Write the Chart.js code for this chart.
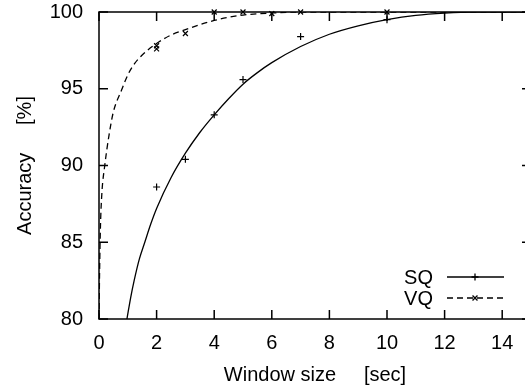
<!DOCTYPE html>
<html lang="en">

<head>
  <meta charset="UTF-8" />
  <title>Accuracy vs Window size</title>
  <script src="https://cdn.jsdelivr.net/npm/chart.js"></script>
  <style>
    html {
      margin: 0;
      padding: 0;
      width: 525px;
      height: 391px;
      overflow: hidden;
      background: #ffffff;
    }

    body {
      margin: 0;
      padding: 0;
      width: 531px;
      height: 391px;
    }

    canvas {
      display: block;
    }
  </style>
</head>

<body>
  <canvas id="accChart" width="531" height="391"></canvas>

  <script>
    // tick labels
    const xTicks = [0, 2, 4, 6, 8, 10, 12, 14];
    const yTicks = [80, 85, 90, 95, 100];

    // fitted curves
    const sqFitX = [0.97, 1.1, 1.22, 1.4, 1.59, 1.8, 2, 2.5, 3, 3.5, 4, 4.5, 5, 5.5, 6, 7, 8, 9, 10, 11, 12, 13, 15];
    const sqFitY = [80, 81.4, 82.5, 83.9, 85, 86.2, 87.2, 89.2, 90.8, 92.15, 93.3, 94.35, 95.3, 96.05, 96.7, 97.75, 98.55, 99.1, 99.5, 99.78, 99.93, 100, 100];
    const vqFitX = [0, 0.02, 0.05, 0.1, 0.2, 0.35, 0.5, 0.78, 1, 1.24, 1.5, 2, 2.5, 3, 4, 5, 6, 7, 8, 15];
    const vqFitY = [80, 83, 86, 88.2, 90, 92, 93.5, 94.9, 95.9, 96.65, 97.2, 97.95, 98.5, 98.85, 99.45, 99.8, 99.93, 100, 100, 100];

    // measured points
    const sqX = [2, 3, 4, 5, 7, 10];
    const sqY = [88.6, 90.4, 93.3, 95.6, 98.4, 99.5];
    const vqX = [2, 2, 3, 4, 5, 6, 7, 10];
    const vqY = [97.8, 97.6, 98.6, 100, 100, 99.9, 100, 100];

    const FONT = "'Liberation Sans', Arial, Helvetica, sans-serif";
    const pts = (xs, ys) => xs.map((x, i) => ({ x: x, y: ys[i] }));

    // frame with inward ticks on all four sides (gnuplot style)
    const framePlugin = {
      id: 'frame',
      afterDatasetsDraw(chart) {
        const { ctx, chartArea: a, scales } = chart;
        const len = 9;
        ctx.save();
        ctx.strokeStyle = '#000';
        ctx.lineWidth = 1.5;
        ctx.strokeRect(a.left, a.top, a.right - a.left, a.bottom - a.top);
        ctx.beginPath();
        xTicks.forEach(v => {
          const px = scales.x.getPixelForValue(v);
          ctx.moveTo(px, a.bottom); ctx.lineTo(px, a.bottom - len);
          ctx.moveTo(px, a.top); ctx.lineTo(px, a.top + len);
        });
        yTicks.forEach(v => {
          const py = scales.y.getPixelForValue(v);
          ctx.moveTo(a.left, py); ctx.lineTo(a.left + len, py);
          ctx.moveTo(a.right, py); ctx.lineTo(a.right - len, py);
        });
        ctx.stroke();
        ctx.restore();
      }
    };

    // key in the lower right, like gnuplot's
    const keyPlugin = {
      id: 'key',
      afterDraw(chart) {
        const ctx = chart.ctx;
        const entries = [
          { ds: chart.data.datasets[0], mark: chart.data.datasets[1], y: 277 },
          { ds: chart.data.datasets[2], mark: chart.data.datasets[3], y: 298 }
        ];
        ctx.save();
        ctx.font = '20px ' + FONT;
        ctx.fillStyle = '#000';
        ctx.textAlign = 'right';
        ctx.textBaseline = 'middle';
        entries.forEach(e => {
          ctx.fillText(e.ds.label, 433, e.y + 1);
          ctx.strokeStyle = '#000';
          ctx.lineWidth = e.ds.borderWidth;
          ctx.setLineDash(e.ds.borderDash || []);
          ctx.beginPath();
          ctx.moveTo(447, e.y);
          ctx.lineTo(504, e.y);
          ctx.stroke();
          ctx.setLineDash([]);
          Chart.helpers.drawPoint(ctx, {
            pointStyle: e.mark.pointStyle,
            radius: e.mark.pointRadius,
            borderWidth: e.mark.borderWidth,
            rotation: 0
          }, 475, e.y);
        });
        ctx.restore();
      }
    };

    Chart.defaults.font.family = FONT;
    Chart.defaults.font.size = 20;
    Chart.defaults.color = '#000';

    new Chart(document.getElementById('accChart'), {
      type: 'scatter',
      data: {
        datasets: [
          {
            label: 'SQ',
            data: pts(sqFitX, sqFitY),
            showLine: true,
            pointRadius: 0,
            borderColor: '#000',
            borderWidth: 1.3,
            cubicInterpolationMode: 'monotone'
          },
          {
            label: 'SQ points',
            data: pts(sqX, sqY),
            pointStyle: 'cross',
            pointRadius: 3.5,
            borderColor: '#000',
            borderWidth: 1.2,
            clip: 6
          },
          {
            label: 'VQ',
            data: pts(vqFitX, vqFitY),
            showLine: true,
            pointRadius: 0,
            borderColor: '#000',
            borderWidth: 1.3,
            borderDash: [6, 4],
            cubicInterpolationMode: 'monotone'
          },
          {
            label: 'VQ points',
            data: pts(vqX, vqY),
            pointStyle: 'crossRot',
            pointRadius: 3.5,
            borderColor: '#000',
            borderWidth: 1.2,
            clip: 6
          }
        ]
      },
      options: {
        responsive: false,
        animation: false,
        devicePixelRatio: 1,
        layout: { autoPadding: false, padding: { top: 12, right: 0, bottom: 0, left: 0 } },
        plugins: {
          legend: { display: false },
          tooltip: { enabled: false }
        },
        scales: {
          x: {
            type: 'linear',
            min: 0,
            max: 15,
            afterBuildTicks: s => { s.ticks = xTicks.map(v => ({ value: v })); },
            afterFit: s => { s.height = 72; s.paddingLeft = 0; s.paddingRight = 0; },
            grid: { display: false, drawTicks: false },
            border: { display: false },
            ticks: { padding: 12, color: '#000' },
            title: {
              display: true,
              text: 'Window size     [sec]',
              color: '#000',
              padding: { top: 0, bottom: 4 }
            }
          },
          y: {
            type: 'linear',
            min: 80,
            max: 100,
            afterBuildTicks: s => { s.ticks = yTicks.map(v => ({ value: v })); },
            afterFit: s => { s.width = 99; s.paddingTop = 0; s.paddingBottom = 0; },
            grid: { display: false, drawTicks: false },
            border: { display: false },
            ticks: { padding: 16, color: '#000' },
            title: {
              display: true,
              text: 'Accuracy     [%]',
              color: '#000',
              padding: { top: 13, bottom: 0 }
            }
          }
        }
      },
      plugins: [framePlugin, keyPlugin]
    });
  </script>
</body>

</html>
